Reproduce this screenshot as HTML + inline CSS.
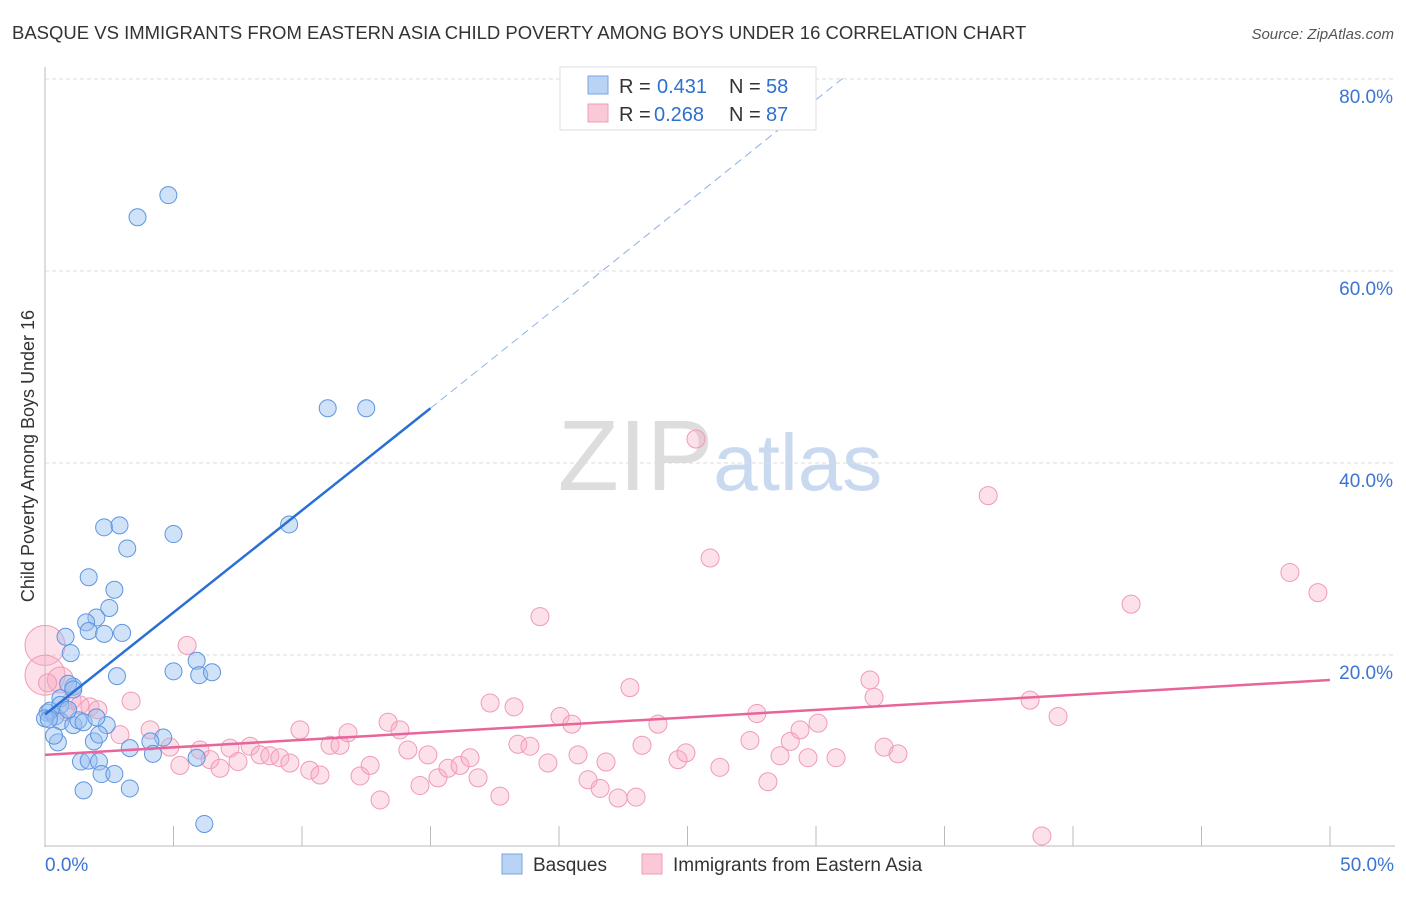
<!DOCTYPE html>
<html><head><meta charset="utf-8"><style>
body{margin:0;background:#fff;font-family:"Liberation Sans",sans-serif}
svg text{font-family:"Liberation Sans",sans-serif}
</style></head><body>
<svg id="chart" width="1406" height="892" xmlns="http://www.w3.org/2000/svg">
<text x="12" y="39" font-size="18.5" fill="#333">BASQUE VS IMMIGRANTS FROM EASTERN ASIA CHILD POVERTY AMONG BOYS UNDER 16 CORRELATION CHART</text>
<text x="1394" y="39" font-size="15" fill="#555" font-style="italic" text-anchor="end">Source: ZipAtlas.com</text>
<text x="720" y="490" font-size="100" fill="#ddd" text-anchor="middle" font-family="Liberation Serif">ZIP<tspan fill="#c9d9f0" font-family="Liberation Sans" font-size="80">atlas</tspan></text>
<text transform="translate(34,456) rotate(-90)" font-size="18" fill="#333" text-anchor="middle">Child Poverty Among Boys Under 16</text>
<g id="grid"></g><g id="pts"></g><g id="lines"></g>
<g>
<rect x="560" y="67" width="256" height="63" fill="#fff" stroke="#ddd"/>
<rect x="588" y="76" width="20" height="18" fill="#b8d3f5" stroke="#7aa5e0"/>
<rect x="588" y="104" width="20" height="18" fill="#fbc8d7" stroke="#ee9fb6"/>
<text x="619" y="93" font-size="20" fill="#333">R =</text>
<text x="657" y="93" font-size="20" fill="#2f6fd0">0.431</text>
<text x="729" y="93" font-size="20" fill="#333">N =</text>
<text x="766" y="93" font-size="20" fill="#2f6fd0">58</text>
<text x="619" y="121" font-size="20" fill="#333">R =</text>
<text x="654" y="121" font-size="20" fill="#2f6fd0">0.268</text>
<text x="729" y="121" font-size="20" fill="#333">N =</text>
<text x="766" y="121" font-size="20" fill="#2f6fd0">87</text>
</g>
<g>
<rect x="502" y="854" width="20" height="20" fill="#b8d3f5" stroke="#7aa5e0"/>
<text x="533" y="871" font-size="19" fill="#333">Basques</text>
<rect x="642" y="854" width="20" height="20" fill="#fbc8d7" stroke="#ee9fb6"/>
<text x="673" y="871" font-size="19" fill="#333">Immigrants from Eastern Asia</text>
</g>
</svg>
<script>
const xTicks=[0,5,10,15,20,25,30,35,40,45,50];
const yTicks=[20,40,60,80];
const blueX=[3.6,4.8,11.0,12.5,9.5,2.3,2.9,3.2,5.0,1.7,2.7,2.5,2.0,1.6,1.7,2.3,3.0,0.8,1.0,5.0,5.9,6.0,6.5,2.8,1.1,0.9,0.6,0.1,0.4,0.6,1.1,1.3,1.5,0.2,2.4,2.0,1.9,2.1,3.3,4.6,4.1,4.2,1.4,1.7,2.1,2.2,2.7,5.9,1.5,3.3,6.2,0.5,0.35,0.0,0.15,0.6,1.1,0.9];
const blueY=[65.6,67.9,45.7,45.7,33.6,33.3,33.5,31.1,32.6,28.1,26.8,24.9,23.9,23.4,22.5,22.2,22.3,21.9,20.2,18.3,19.4,17.9,18.2,17.8,16.7,17.0,15.5,14.0,13.6,13.1,12.7,13.2,13.0,14.2,12.7,13.5,11.0,11.7,10.3,11.4,11.0,9.7,8.9,9.0,8.9,7.6,7.6,9.3,5.9,6.1,2.4,10.9,11.6,13.4,13.3,14.8,16.4,14.3];
const pinkX=[0,0,0.6,0.1,1.05,1.36,1.75,2.06,0.82,3.35,5.53,2.92,4.09,4.86,5.25,6.03,6.42,6.81,7.2,7.51,7.98,8.37,8.75,9.14,9.53,9.92,10.3,10.7,11.09,11.48,11.79,12.26,12.65,13.04,13.35,13.81,14.12,14.59,14.9,15.29,15.68,16.15,16.54,16.85,17.32,17.7,18.25,18.4,18.87,19.26,19.57,20.04,20.5,20.74,21.13,21.6,21.83,22.3,22.76,23.0,23.23,23.85,24.63,24.94,25.33,25.88,26.26,27.43,27.7,28.13,28.6,29.0,29.38,29.69,30.08,30.78,32.1,32.26,32.65,33.19,36.7,38.33,38.79,39.42,42.26,48.44,49.53];
const pinkY=[21.0,17.9,17.4,17.1,15.3,14.8,14.6,14.3,14.1,15.2,21.0,11.7,12.2,10.4,8.5,10.1,9.1,8.2,10.3,8.9,10.5,9.6,9.5,9.3,8.75,12.2,8.0,7.5,10.6,10.6,11.9,7.4,8.5,4.9,13.0,12.2,10.1,6.4,9.6,7.2,8.2,8.5,9.3,7.2,15.0,5.3,14.6,10.7,10.5,24.0,8.75,13.6,12.8,9.6,7.0,6.1,8.85,5.1,16.6,5.2,10.6,12.8,9.1,9.8,42.5,30.1,8.3,11.1,13.9,6.8,9.5,11.0,12.2,9.3,12.9,9.3,17.4,15.6,10.4,9.7,36.6,15.3,1.15,13.6,25.3,28.6,26.5];
const blueLine=[0,13.8,15,45.7];
const blueDash=[15,45.7,31.1,80.2];
const pinkLine=[0,9.6,50,17.4];
const NS="http://www.w3.org/2000/svg";
const X0=45,X1=1330,Y0=847,Y80=79;
const sx=v=>X0+(X1-X0)*v/50;
const sy=v=>Y0-(Y0-Y80)*v/80;
function mk(t,a,p){const e=document.createElementNS(NS,t);for(const k in a)e.setAttribute(k,a[k]);p.appendChild(e);return e;}
const grid=document.getElementById('grid');
const ax=mk('line',{x1:45,y1:67,x2:45,y2:847,stroke:'#bbb'},grid);


const bx=mk('line',{x1:45,y1:846,x2:1395,y2:846,stroke:'#bbb'},grid);


yTicks.forEach(v=>{
 const l=mk('line',{x1:45,y1:sy(v),x2:1395,y2:sy(v),stroke:'#ddd','stroke-dasharray':'4,3'},grid);
 
 
 const t=mk('text',{x:1393,y:sy(v)+24,'font-size':19,fill:'#3b74d1','text-anchor':'end'},grid);
 t.textContent=v.toFixed(1)+'%';
 
 
});
xTicks.forEach(v=>{
 const l=mk('line',{x1:sx(v),y1:826,x2:sx(v),y2:846,stroke:'#bbb'},grid);
 
 
});
[[0,'start',45],[50,'end',1394]].forEach(([v,a,x])=>{
 const t=mk('text',{x:x,y:871,'font-size':19,fill:'#3b74d1','text-anchor':a},grid);
 t.textContent=v.toFixed(1)+'%';
 
 
});
const pts=document.getElementById('pts');
pinkX.forEach((v,i)=>{
 const r=i<2?20:(i<3?13:9);
 const c=mk('circle',{cx:sx(v),cy:sy(pinkY[i]),r:r,fill:'rgba(248,170,195,0.35)',stroke:'#f09ab5','stroke-width':1},pts);
 
 
});
blueX.forEach((v,i)=>{
 const c=mk('circle',{cx:sx(v),cy:sy(blueY[i]),r:8.5,fill:'rgba(150,190,240,0.45)',stroke:'#5e95e0','stroke-width':1},pts);
 
 
});
const lines=document.getElementById('lines');
const b1=mk('line',{x1:sx(blueLine[0]),y1:sy(blueLine[1]),x2:sx(blueLine[2]),y2:sy(blueLine[3]),stroke:'#2a6fd6','stroke-width':2.5},lines);


const b2=mk('line',{x1:sx(blueDash[0]),y1:sy(blueDash[1]),x2:sx(blueDash[2]),y2:sy(blueDash[3]),stroke:'#8fb3e8','stroke-width':1,'stroke-dasharray':'8,5'},lines);


const p1=mk('line',{x1:sx(pinkLine[0]),y1:sy(pinkLine[1]),x2:sx(pinkLine[2]),y2:sy(pinkLine[3]),stroke:'#e8659a','stroke-width':2.5},lines);


</script>
</body></html>
